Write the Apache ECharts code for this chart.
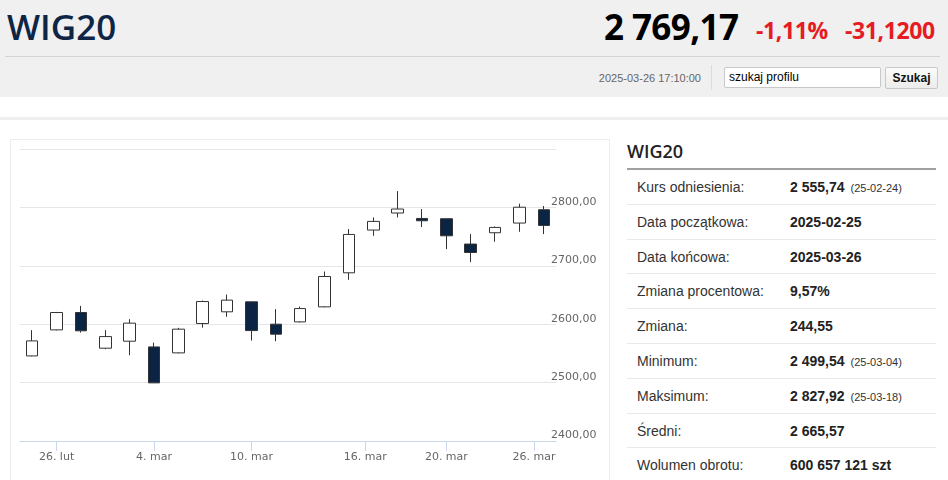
<!DOCTYPE html>
<html>
<head>
<meta charset="utf-8">
<script src="https://cdn.jsdelivr.net/npm/echarts@6/dist/echarts.min.js"></script>
<style>
  html, body { margin:0; padding:0; width:948px; height:480px; overflow:hidden; background:#fff; font-family:"Liberation Sans", Arial, sans-serif; }
  .abs { position:absolute; }
  #header { left:0; top:0; width:948px; height:97px; background:#f0f0f0; }
  #title { left:7px; top:5px; font-family:"Open Sans"; font-weight:600; font-size:35px; line-height:44px; color:#0e2546; }
  #hline { left:5px; top:56px; width:935px; height:1px; background:#d4d4d4; }
  #price { left:604px; top:4px; font-family:"Open Sans"; font-weight:700; font-size:35px; line-height:46px; color:#000; letter-spacing:-0.6px; }
  #pct { left:756px; top:13px; font-family:"Open Sans"; font-weight:700; font-size:23px; line-height:34px; color:#e51c23; letter-spacing:-0.4px; }
  #chg { left:845px; top:13px; font-family:"Open Sans"; font-weight:700; font-size:23px; line-height:34px; color:#e51c23; letter-spacing:-0.4px; }
  #date { left:562px; width:139px; text-align:right; top:70px; font-size:11px; line-height:16px; color:#666; }
  #vsep { left:711px; top:65px; width:1px; height:25px; background:#dcdcdc; }
  #search { left:724px; top:67px; width:155px; height:19px; background:#fff; border:1px solid #c8c8c8; border-radius:2px; font-size:12px; line-height:19px; color:#000; box-sizing:content-box; }
  #search span { position:absolute; left:4px; top:0; }
  #btn { left:885px; top:67px; width:51px; height:20px; background:linear-gradient(#fbfbfb,#ececec); border:1px solid #c8c8c8; border-radius:2px; font-size:12px; font-weight:bold; line-height:20px; text-align:center; color:#111; }
  #band { left:0; top:117px; width:948px; height:3px; background:#efefef; }
  #box { left:10px; top:139px; width:600px; height:360px; border:1px solid #ececec; box-sizing:border-box; }
  #chart { left:11px; top:141px; width:599px; height:339px; }
  #ptitle { left:627px; top:139px; font-family:"Open Sans"; font-weight:600; font-size:18px; line-height:24px; color:#222; }
  #pline { left:627px; top:168px; width:309px; height:2px; background:#a0a0a0; }
  #rows { left:627px; top:170px; width:309px; }
  .row { position:relative; height:34.8px; border-bottom:1px solid #e9e9e9; box-sizing:border-box; font-size:14px; line-height:34px; color:#333; }
  .row .lab { position:absolute; left:10px; top:0; }
  .row .val { position:absolute; left:163px; top:0; font-weight:bold; color:#222; white-space:nowrap; }
  .row .val small { font-weight:normal; font-size:11px; margin-left:6px; color:#333; }
</style>
</head>
<body>
<div id="header" class="abs"></div>
<div id="title" class="abs">WIG20</div>
<div id="hline" class="abs"></div>
<div id="price" class="abs">2 769,17</div>
<div id="pct" class="abs">-1,11%</div>
<div id="chg" class="abs">-31,1200</div>
<div id="date" class="abs">2025-03-26 17:10:00</div>
<div id="vsep" class="abs"></div>
<div id="search" class="abs"><span>szukaj profilu</span></div>
<div id="btn" class="abs">Szukaj</div>
<div id="band" class="abs"></div>
<div id="box" class="abs"></div>
<div id="chart" class="abs"></div>
<div id="ptitle" class="abs">WIG20</div>
<div id="pline" class="abs"></div>
<div id="rows" class="abs"></div>

<script>
// ---- data ----
const dates = ['2025-02-25','2025-02-26','2025-02-27','2025-02-28','2025-03-03','2025-03-04','2025-03-05','2025-03-06','2025-03-07','2025-03-10','2025-03-11','2025-03-12','2025-03-13','2025-03-14','2025-03-17','2025-03-18','2025-03-19','2025-03-20','2025-03-21','2025-03-24','2025-03-25','2025-03-26'];
const openVals  = [2545.7, 2590.3, 2620.0, 2558.9, 2570.9, 2561.1, 2550.9, 2601.1, 2621.2, 2638.3, 2600.0, 2604.0, 2629.7, 2688.0, 2761.2, 2790.4, 2781.1, 2780.6, 2737.2, 2756.6, 2773.2, 2796.0];
const closeVals = [2571.4, 2620.0, 2588.7, 2578.8, 2601.8, 2499.54, 2591.5, 2638.8, 2641.2, 2589.1, 2582.9, 2626.8, 2681.7, 2753.7, 2776.0, 2797.2, 2777.1, 2751.4, 2722.8, 2765.7, 2800.29, 2769.17];
const lowVals   = [2545.0, 2589.5, 2585.7, 2557.2, 2546.9, 2499.54, 2550.0, 2594.2, 2612.6, 2572.0, 2570.9, 2603.0, 2629.0, 2676.0, 2751.4, 2782.8, 2766.4, 2728.6, 2706.4, 2741.2, 2758.3, 2754.3];
const highVals  = [2589.8, 2621.0, 2631.4, 2589.8, 2608.6, 2568.5, 2593.7, 2640.5, 2650.8, 2639.0, 2625.8, 2630.2, 2690.2, 2762.9, 2782.8, 2827.92, 2797.2, 2781.0, 2754.3, 2767.4, 2806.3, 2802.4];
// x tick labels and their positions on the ordinal (trading-day index) scale
const tickPos    = [1, 5, 9, 13.67, 17, 20.6];
const tickLabels = ['26. lut', '4. mar', '10. mar', '16. mar', '20. mar', '26. mar'];
const yTicks = [2400, 2500, 2600, 2700, 2800, 2900];

// side table
const statLabels = ['Kurs odniesienia:', 'Data początkowa:', 'Data końcowa:', 'Zmiana procentowa:', 'Zmiana:', 'Minimum:', 'Maksimum:', 'Średni:', 'Wolumen obrotu:'];
const statValues = ['2 555,74', '2025-02-25', '2025-03-26', '9,57%', '244,55', '2 499,54', '2 827,92', '2 665,57', '600 657 121 szt'];
const statNotes  = ['(25-02-24)', '', '', '', '', '(25-03-04)', '(25-03-18)', '', ''];

// ---- side table ----
const rows = document.getElementById('rows');
statLabels.forEach((l, i) => {
  const r = document.createElement('div');
  r.className = 'row';
  const a = document.createElement('span'); a.className = 'lab'; a.textContent = l;
  const b = document.createElement('span'); b.className = 'val'; b.textContent = statValues[i];
  if (statNotes[i]) { const s = document.createElement('small'); s.textContent = statNotes[i]; b.appendChild(s); }
  r.appendChild(a); r.appendChild(b); rows.appendChild(r);
});

// ---- chart ----
const chart = echarts.init(document.getElementById('chart'), null, {renderer: 'canvas'});
const candleData = dates.map((d, i) => [openVals[i], closeVals[i], lowVals[i], highVals[i]]);
const labelFont = {color: '#666', fontSize: 11, fontFamily: 'DejaVu Sans'};
chart.setOption({
  animation: false,
  grid: {left: 9, right: 54, top: 8, bottom: 39},
  xAxis: [
    {
      type: 'category', data: dates, boundaryGap: true,
      axisLine: {onZero: false, lineStyle: {color: '#ccd6eb', width: 1}},
      axisTick: {show: false}, axisLabel: {show: false}, splitLine: {show: false}
    },
    {
      type: 'value', position: 'bottom', min: -0.5, max: dates.length - 0.5,
      axisLine: {show: false, onZero: false}, splitLine: {show: false},
      axisTick: {show: true, customValues: tickPos, length: 10, lineStyle: {color: '#ccd6eb'}},
      axisLabel: Object.assign({customValues: tickPos, margin: 11,
        formatter: v => { const k = tickPos.findIndex(p => Math.abs(p - v) < 1e-6); return k >= 0 ? tickLabels[k] : ''; }}, labelFont)
    }
  ],
  yAxis: {
    type: 'value', position: 'right', min: yTicks[0], max: yTicks[yTicks.length - 1], interval: 100,
    axisLine: {show: false, onZero: false}, axisTick: {show: false},
    splitLine: {lineStyle: {color: '#e6e6e6', width: 1}},
    axisLabel: Object.assign({showMaxLabel: false, margin: -5, verticalAlign: 'bottom',
      formatter: v => v.toFixed(2).replace('.', ',')}, labelFont)
  },
  series: [{
    type: 'candlestick', xAxisIndex: 0, yAxisIndex: 0,
    data: candleData, barWidth: 12,
    itemStyle: {color: '#ffffff', color0: '#0b2444', borderColor: '#333333', borderColor0: '#333333', borderWidth: 1}
  }]
});
</script>
</body>
</html>
